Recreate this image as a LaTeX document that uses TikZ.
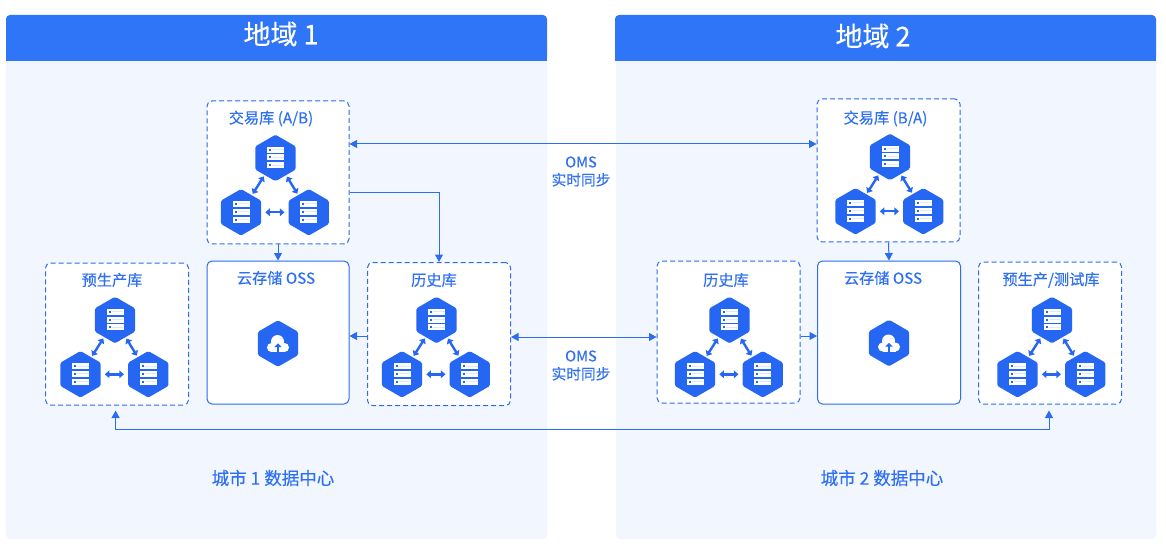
\documentclass[tikz,border=0pt]{standalone}
\usepackage{fontspec}
\setmainfont{Noto Sans CJK SC}[FakeBold=0.35]
\usetikzlibrary{shapes.geometric,arrows.meta,calc}
\definecolor{hdr}{HTML}{2F75F7}
\definecolor{pane}{HTML}{F2F7FF}
\definecolor{hexc}{HTML}{2566F2}
\definecolor{linec}{HTML}{2B6CF0}
\definecolor{txt}{HTML}{2F6FF2}
\definecolor{gap}{HTML}{DCE8FD}
\tikzset{
  panefill/.style={fill=pane},
  hdrfill/.style={fill=hdr},
  hdrtext/.style={text=white,font=\fontsize{27}{30}\selectfont,inner sep=0pt},
  label/.style={text=txt,font=\fontsize{15.2}{17}\selectfont,inner sep=0pt},
  citylabel/.style={text=txt,font=\fontsize{17.5}{20}\selectfont,inner sep=0pt},
  omslabel/.style={text=txt,font=\fontsize{14.7}{18}\selectfont,inner sep=0pt,align=center},
  dashbox/.style={draw=linec,line width=1pt,fill=white,rounded corners=5pt,dash pattern=on 5pt off 3pt,inner sep=0pt},
  solidbox/.style={draw=linec,line width=1pt,fill=white,rounded corners=5pt,inner sep=0pt},
  hexnode/.style={regular polygon,regular polygon sides=6,regular polygon rotate=30,fill=hexc,minimum size=46.5pt,inner sep=0pt,rounded corners=1.5pt},
  conn/.style={draw=linec,line width=1pt,-{Triangle[length=7.5pt,width=8pt]}},
  conndbl/.style={draw=linec,line width=1pt,{Triangle[length=7.5pt,width=8pt]}-{Triangle[length=7.5pt,width=8pt]}},
  small/.style={draw=hexc,line width=2.4pt,{Triangle[length=4.5pt,width=7.5pt]}-{Triangle[length=4.5pt,width=7.5pt]},shorten >=1.5pt,shorten <=1.5pt},
  smallh/.style={small,shorten >=4pt,shorten <=4pt},
}
% one white server glyph, centred on a hexagon
\newcommand{\serverglyph}[2]{%
  \foreach \dy in {-11.3,-3.5,4.3}{%
    \fill[white] (#1-8.5,#2+\dy) rectangle (#1+8.5,#2+\dy+6);
    \fill[hexc] (#1-6.5,#2+\dy+2) rectangle (#1-4.5,#2+\dy+4);
    \fill[gap] (#1-3.5,#2+\dy+2.5) rectangle (#1+8,#2+\dy+3.5);
  }%
}
% a cluster of three database hexagons with their links
\newcommand{\hexcluster}[3]{%
  \node[hexnode] (#1t) at (#2,#3) {};
  \node[hexnode] (#1l) at (#2-34.5,#3+54.3) {};
  \node[hexnode] (#1r) at (#2+33.3,#3+54.3) {};
  \serverglyph{#2}{#3}
  \serverglyph{#2-34.5}{#3+54.3}
  \serverglyph{#2+33.3}{#3+54.3}
  \draw[small] (#1t) -- (#1l);
  \draw[small] (#1t) -- (#1r);
  \draw[smallh] (#1l) -- (#1r);
}
% a cloud-upload hexagon
\newcommand{\cloudhex}[3]{%
  \node[hexnode] (#1) at (#2,#3) {};
  \fill[white] (#2-6.5,#3+4) circle (4.5pt);
  \fill[white] (#2+6.5,#3+4) circle (4.5pt);
  \fill[white] (#2-0.5,#3-2) circle (6.5pt);
  \fill[white] (#2-6.5,#3+2) rectangle (#2+6.5,#3+8.5);
  \fill[gap] (#2+0.5,#3-5.5) rectangle (#2+5,#3-4.7);
  \fill[hexc] (#2-1.1,#3+9) rectangle (#2+1.1,#3+2);
  \fill[hexc] (#2-3.8,#3+3.6) -- (#2,#3-0.2) -- (#2+3.8,#3+3.6) -- cycle;
}
\begin{document}
\begin{tikzpicture}[x=1pt,y=-1pt]
\useasboundingbox (0,0) rectangle (1166,553);
\fill[white] (0,0) rectangle (1166,553);
% panels
\fill[panefill,rounded corners=4pt] (6,40) rectangle (547,539);
\fill[panefill,rounded corners=4pt] (616,40) rectangle (1156,539);
\fill[hdrfill,rounded corners=4pt] (6,61) -- (6,15) -- (547,15) -- (547,61) -- cycle;
\fill[hdrfill,rounded corners=4pt] (615,61) -- (615,15) -- (1156,15) -- (1156,61) -- cycle;
\fill[hdrfill] (6,50) rectangle (547,61);
\fill[hdrfill] (615,50) rectangle (1156,61);
\node[hdrtext] (h1title) at (281,34) {地域 1};
\node[hdrtext] (h2title) at (873,36) {地域 2};
% boxes
\node[dashbox,minimum width=142pt,minimum height=143pt] (tA) at (278,172.5) {};
\node[solidbox,minimum width=142pt,minimum height=143pt] (oA) at (278,332.5) {};
\node[dashbox,minimum width=143pt,minimum height=143pt] (hA) at (439,334) {};
\node[dashbox,minimum width=143pt,minimum height=142pt] (pA) at (117,334) {};
\node[dashbox,minimum width=143pt,minimum height=143pt] (tB) at (888.5,170.5) {};
\node[solidbox,minimum width=143pt,minimum height=143pt] (oB) at (889,332.5) {};
\node[dashbox,minimum width=143pt,minimum height=142pt] (hB) at (728.5,332) {};
\node[dashbox,minimum width=143pt,minimum height=142pt] (pB) at (1050,333) {};
% labels
\node[label] (ltA) at (271,118.5) {交易库 (A/B)};
\node[label] (loA) at (276,278) {云存储 OSS};
\node[label] (lhA) at (434,280) {历史库};
\node[label] (lpA) at (112,280) {预生产库};
\node[label] (ltB) at (885.5,118.5) {交易库 (B/A)};
\node[label] (loB) at (883,278) {云存储 OSS};
\node[label] (lhB) at (726,280) {历史库};
\node[label] (lpB) at (1051,280) {预生产/测试库};
% clusters
\hexcluster{a}{275.5}{158}
\hexcluster{b}{115}{320}
\hexcluster{c}{436.5}{320}
\hexcluster{d}{890}{157}
\hexcluster{e}{729.5}{320}
\hexcluster{f}{1052}{320}
\cloudhex{ca}{278}{343.5}
\cloudhex{cb}{889}{343}
% connectors
\draw[conndbl] ([yshift=28.5pt]tA.east) -- ([yshift=26.5pt]tB.west);
\draw[conn] (tA.south) -- (oA.north);
\draw[conn] (tB.south) -- (oB.north);
\draw[conn] ([yshift=-20.5pt]tA.east) -| (hA.north);
\draw[conn] ([yshift=-2pt]hA.west) -- ([yshift=-3.5pt]oA.east);
\draw[conndbl] ([yshift=-3pt]hA.east) -- ([yshift=-5pt]hB.west);
\draw[conn] ([yshift=-4pt]hB.east) -- ([yshift=-3.5pt]oB.west);
\coordinate (lowA) at (115.6,429.5);
\coordinate (lowB) at (1049,429.5);
\draw[conndbl] ([yshift=-5pt]pA.south -| lowA) -- (lowA) -- (lowB) -- ([yshift=-6pt]pB.south -| lowB);
% texts between regions
\node[omslabel] (oms1) at (581,171.5) {OMS\\实时同步};
\node[omslabel] (oms2) at (581,365.5) {OMS\\实时同步};
\node[citylabel] (city1) at (273,478) {城市 1 数据中心};
\node[citylabel] (city2) at (882,478) {城市 2 数据中心};
\end{tikzpicture}
\end{document}
